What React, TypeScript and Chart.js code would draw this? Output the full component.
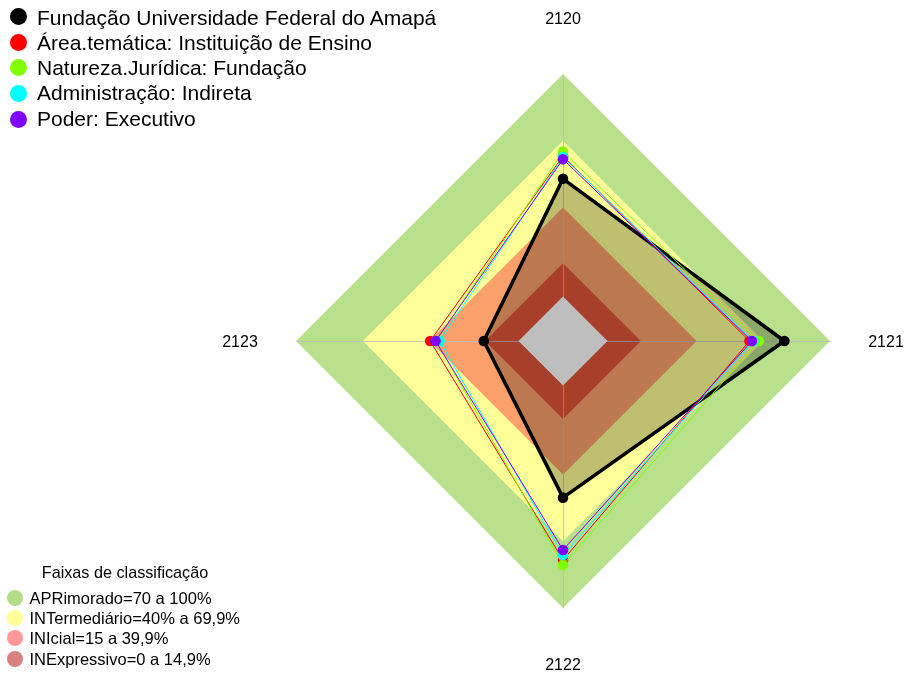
import React, { useEffect, useRef } from "react";
import { Chart, registerables } from "chart.js";

Chart.register(...registerables);

// ---- data ----
const axisLabels = ["2120", "2121", "2122", "2123"];

const seriesNames = [
  "Fundação Universidade Federal do Amapá",
  "Área.temática: Instituição de Ensino",
  "Natureza.Jurídica: Fundação",
  "Administração: Indireta",
  "Poder: Executivo",
];
const seriesColors = ["#000000", "#FF0000", "#80FF00", "#00FFFF", "#8000FF"];

const fundacaoValues = [52.9, 79.5, 50.4, 15.6];
const areaTematicaValues = [63.1, 63.8, 78.4, 39.7];
const naturezaValues = [65.1, 68.0, 80.7, 37.0];
const administracaoValues = [62.7, 65.6, 76.2, 35.5];
const poderValues = [61.7, 64.9, 73.9, 37.3];

const bandNames = [
  "APRimorado=70 a 100%",
  "INTermediário=40% a 69,9%",
  "INIcial=15 a 39,9%",
  "INExpressivo=0 a 14,9%",
];
const bandUpper = [100, 70, 40, 15];
const bandFillColors = ["#B9E08B", "#FFFF99", "#FBA06A", "#DF5539"];
const bandLegendColors = ["#B3DD87", "#FFFF99", "#FF9999", "#D98080"];
const centerValue = 0;

const scaleMin = -20;
const scaleMax = 100;

const FONT = '"Liberation Sans", Arial, sans-serif';

export default function App() {
  const canvasRef = useRef<HTMLCanvasElement | null>(null);

  useEffect(() => {
    const canvas = canvasRef.current;
    if (!canvas) return;

    const seriesValues = [
      fundacaoValues,
      areaTematicaValues,
      naturezaValues,
      administracaoValues,
      poderValues,
    ];

    const datasets: any[] = [];
    // gray center (on top)
    datasets.push({
      label: "centro",
      data: axisLabels.map(() => centerValue),
      backgroundColor: "#BEBEBE",
      borderColor: "rgba(0,0,0,0)",
      borderWidth: 0,
      pointRadius: 0,
      fill: "start",
      order: 0,
    });
    // series
    seriesValues.forEach((vals, i) => {
      const isMain = i === 0;
      datasets.push({
        label: seriesNames[i],
        data: vals,
        borderColor: seriesColors[i],
        backgroundColor: isMain ? "rgba(0,0,0,0.25)" : "rgba(0,0,0,0)",
        borderWidth: isMain ? 3.5 : 1,
        pointRadius: 5.3,
        pointBackgroundColor: seriesColors[i],
        pointBorderColor: seriesColors[i],
        pointBorderWidth: 0,
        fill: isMain ? "start" : false,
        order: 5 - i,
      });
    });
    // bands
    bandUpper.forEach((u, i) => {
      datasets.push({
        label: bandNames[i],
        data: axisLabels.map(() => u),
        backgroundColor: bandFillColors[i],
        borderColor: "rgba(0,0,0,0)",
        borderWidth: 0,
        pointRadius: 0,
        fill: "start",
        order: 9 - i,
      });
    });
    const lastBandIndex = datasets.length - 1;

    const angleLinePlugin = {
      id: "angleLinesOverBands",
      afterDatasetDraw(chart: any, args: any) {
        if (args.index !== lastBandIndex) return;
        const scale = chart.scales.r;
        const ctx = chart.ctx;
        ctx.save();
        ctx.strokeStyle = "rgba(190,190,190,0.85)";
        ctx.lineWidth = 1;
        for (let i = 0; i < axisLabels.length; i++) {
          const p = scale.getPointPositionForValue(i, scaleMax);
          ctx.beginPath();
          ctx.moveTo(scale.xCenter + 0.5, scale.yCenter + 0.5);
          ctx.lineTo(p.x + 0.5, p.y + 0.5);
          ctx.stroke();
        }
        ctx.restore();
      },
    };

    const axisTextPlugin = {
      id: "axisText",
      afterDatasetsDraw(chart: any) {
        const scale = chart.scales.r;
        const ctx = chart.ctx;
        ctx.save();
        ctx.font = `16px ${FONT}`;
        ctx.fillStyle = "#000000";
        ctx.textAlign = "center";
        ctx.textBaseline = "middle";
        axisLabels.forEach((l, i) => {
          const p = scale.getPointPosition(i, 323);
          ctx.fillText(l, p.x, p.y + 1.5);
        });
        ctx.restore();
      },
    };

    const chart = new Chart(canvas, {
      type: "radar",
      data: { labels: axisLabels, datasets },
      options: {
        responsive: false,
        animation: false,
        devicePixelRatio: 1,
        events: [],
        layout: { padding: { left: 296, right: 74, top: 74, bottom: 66 } },
        elements: { line: { tension: 0, borderJoinStyle: "round" } },
        plugins: {
          legend: { display: false },
          tooltip: { enabled: false },
        },
        scales: {
          r: {
            min: scaleMin,
            max: scaleMax,
            ticks: { display: false },
            grid: { display: false },
            angleLines: { display: false },
            pointLabels: { display: false },
          },
        },
      } as any,
      plugins: [angleLinePlugin, axisTextPlugin],
    });

    return () => chart.destroy();
  }, []);

  const topCapCenter = (i: number) => 17.5 + 25.2 * i;
  const topCircle = (i: number) => 16.7 + 25.6 * i;
  const botRow = (i: number) => 598 + 20.2 * i;

  return (
    <div
      style={{
        position: "fixed",
        left: 0,
        top: 0,
        width: 905,
        height: 675,
        background: "#ffffff",
        fontFamily: FONT,
        color: "#000",
        overflow: "hidden",
      }}
    >
      <canvas
        ref={canvasRef}
        width={905}
        height={675}
        style={{ position: "absolute", left: 0, top: 0, width: 905, height: 675 }}
      />
      {seriesNames.map((name, i) => (
        <React.Fragment key={name}>
          <div
            style={{
              position: "absolute",
              left: 18.3 - 8.5,
              top: topCircle(i) - 8.5,
              width: 17,
              height: 17,
              borderRadius: "50%",
              background: seriesColors[i],
            }}
          />
          <div
            style={{
              position: "absolute",
              left: 37,
              top: topCapCenter(i) - 11.75,
              fontSize: 21,
              lineHeight: "24px",
              whiteSpace: "nowrap",
            }}
          >
            {name}
          </div>
        </React.Fragment>
      ))}
      <div
        style={{
          position: "absolute",
          left: 0,
          width: 250,
          top: 562,
          textAlign: "center",
          fontSize: 16.2,
          lineHeight: "20px",
          whiteSpace: "nowrap",
        }}
      >
        Faixas de classificação
      </div>
      {bandNames.map((name, i) => (
        <React.Fragment key={name}>
          <div
            style={{
              position: "absolute",
              left: 15 - 8,
              top: botRow(i) - 8,
              width: 16,
              height: 16,
              borderRadius: "50%",
              background: bandLegendColors[i],
            }}
          />
          <div
            style={{
              position: "absolute",
              left: 29.5,
              top: botRow(i) - 10,
              fontSize: 16.5,
              lineHeight: "20px",
              whiteSpace: "nowrap",
            }}
          >
            {name}
          </div>
        </React.Fragment>
      ))}
    </div>
  );
}
